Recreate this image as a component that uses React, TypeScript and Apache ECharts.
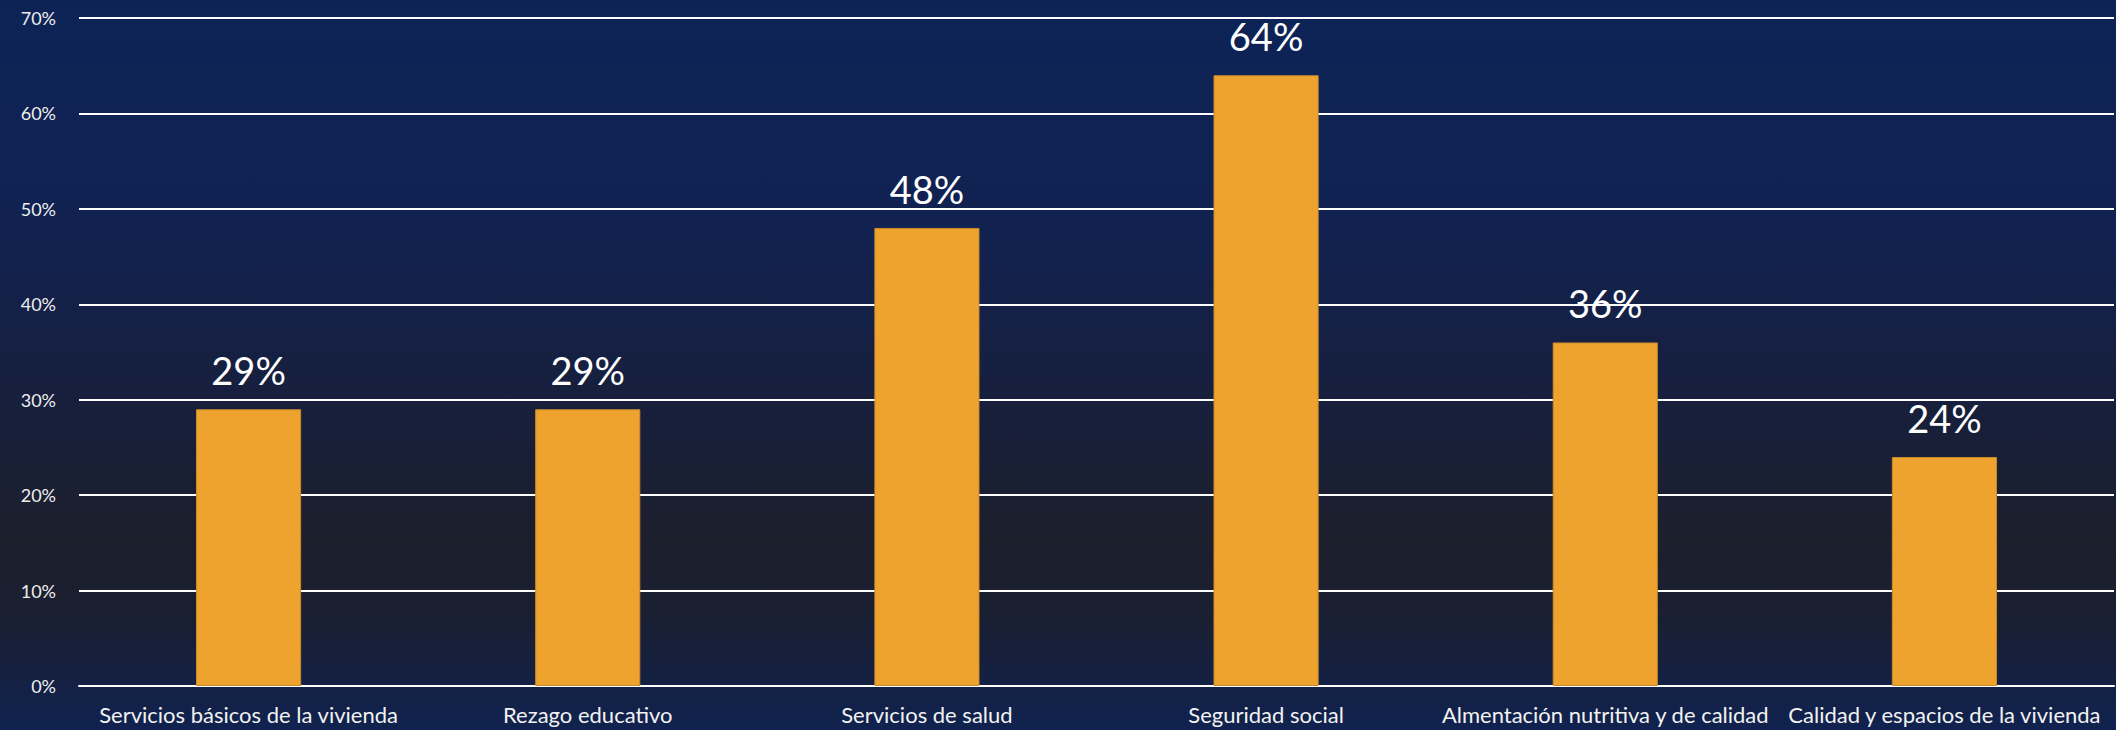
import React, { useEffect, useRef } from "react";
import * as echarts from "echarts";

const categories = [
  "Servicios básicos de la vivienda",
  "Rezago educativo",
  "Servicios de salud",
  "Seguridad social",
  "Almentación nutritiva y de calidad",
  "Calidad y espacios de la vivienda",
];
const values = [29, 29, 48, 64, 36, 24];
const yTicks = { min: 0, max: 70, interval: 10 };

export default function App() {
  const ref = useRef<HTMLDivElement>(null);
  useEffect(() => {
    document.body.style.margin = "0";
    const chart = echarts.init(ref.current!, null, { renderer: "svg" });
    chart.setOption({
      animation: false,
      backgroundColor: new echarts.graphic.LinearGradient(0, 0, 0, 1, [
        { offset: 0, color: "#0d2356" },
        { offset: 0.3, color: "#112251" },
        { offset: 0.55, color: "#171f3c" },
        { offset: 0.74, color: "#1c1f2c" },
        { offset: 0.84, color: "#1a1f31" },
        { offset: 1, color: "#10224f" },
      ]),
      grid: { left: 79, right: 2, top: 18, bottom: 44, containLabel: false },
      xAxis: {
        type: "category",
        data: categories,
        axisLine: { show: true, lineStyle: { color: "#ffffff", width: 2 } },
        axisTick: { show: false },
        axisLabel: {
          interval: 0,
          color: "#f2f2f2",
          fontFamily: "Lato",
          fontSize: 22,
          margin: 17,
        },
      },
      yAxis: {
        type: "value",
        min: yTicks.min,
        max: yTicks.max,
        interval: yTicks.interval,
        axisLine: { show: false },
        axisTick: { show: false },
        splitLine: { show: true, lineStyle: { color: "#ffffff", width: 2 } },
        axisLabel: {
          color: "#eeeeee",
          fontFamily: "Lato",
          fontSize: 18,
          margin: 23,
          formatter: "{value}%",
        },
      },
      series: [
        {
          type: "bar",
          data: values,
          barWidth: "31%",
          itemStyle: { color: "#efa32f", borderColor: "#c98a2c", borderWidth: 1 },
          label: {
            show: true,
            position: "top",
            distance: 20,
            color: "#ffffff",
            fontFamily: "Lato",
            fontSize: 38,
            formatter: "{c}%",
          },
        },
      ],
    });
    return () => chart.dispose();
  }, []);
  return (
    <div
      ref={ref}
      style={{ position: "absolute", left: 0, top: 0, width: 2116, height: 730 }}
    />
  );
}
